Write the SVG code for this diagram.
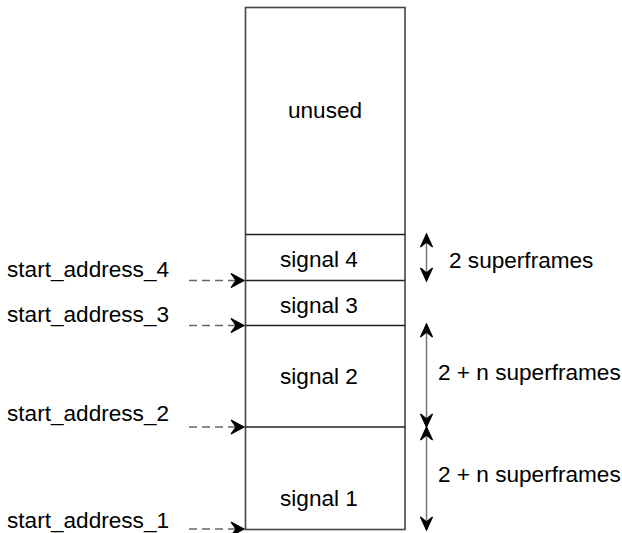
<svg xmlns="http://www.w3.org/2000/svg" width="622" height="533" viewBox="0 0 622 533">
  <style>
    text { font-family: "Liberation Sans", Arial, sans-serif; font-size: 22.6px; fill: #000; }
    .mid { text-anchor: middle; }
    .box { fill: #fff; stroke: #444; stroke-width: 1.6; }
    .sep { stroke: #222; stroke-width: 1.3; }
    .ptr { stroke: #666; stroke-width: 1.3; stroke-dasharray: 8 5; fill: none; }
    .span { stroke: #777; stroke-width: 1.5; fill: none; }
    .head { fill: #000; stroke: #000; stroke-width: 1.2; stroke-linejoin: miter; }
  </style>
  <defs>
    <!-- notched filled arrowheads: pointers (left) and span arrows (right) -->
    <marker id="ptrHead" viewBox="-16 -9 18 18" refX="0" refY="0" markerWidth="18" markerHeight="18" markerUnits="userSpaceOnUse" orient="auto">
      <path class="head" d="M0,0 L-13,-7 L-8,0 L-13,7 Z"/>
    </marker>
    <marker id="spanHead" viewBox="-16 -9 18 18" refX="0" refY="0" markerWidth="18" markerHeight="18" markerUnits="userSpaceOnUse" orient="auto-start-reverse">
      <path class="head" d="M0,0 L-13,-6 L-8,0 L-13,6 Z"/>
    </marker>
  </defs>

  <!-- memory column -->
  <g id="memory">
    <rect class="box" x="245.5" y="7.5" width="159.5" height="522"/>
  </g>
  <g id="unused">
    <text class="mid" x="325" y="118">unused</text>
  </g>
  <g id="signal4">
    <line class="sep" x1="245.5" y1="234.5" x2="405" y2="234.5"/>
    <text class="mid" x="319" y="267">signal 4</text>
  </g>
  <g id="signal3">
    <line class="sep" x1="245.5" y1="280.5" x2="405" y2="280.5"/>
    <text class="mid" x="319" y="313">signal 3</text>
  </g>
  <g id="signal2">
    <line class="sep" x1="245.5" y1="325.5" x2="405" y2="325.5"/>
    <text class="mid" x="319" y="384">signal 2</text>
  </g>
  <g id="signal1">
    <line class="sep" x1="245.5" y1="427" x2="405" y2="427"/>
    <text class="mid" x="319" y="506">signal 1</text>
  </g>

  <!-- start address labels -->
  <g id="addr4"><text x="7" y="277">start_address_4</text></g>
  <g id="addr3"><text x="7" y="322">start_address_3</text></g>
  <g id="addr2"><text x="7" y="421">start_address_2</text></g>
  <g id="addr1"><text x="7" y="528">start_address_1</text></g>

  <!-- size labels -->
  <g id="size4"><text x="449" y="268">2 superframes</text></g>
  <g id="size2"><text x="438" y="380">2 + n superframes</text></g>
  <g id="size1"><text x="438" y="482">2 + n superframes</text></g>

  <!-- connectors -->
  <g id="connectors">
    <line class="ptr" x1="189" y1="280.5" x2="244" y2="280.5" marker-end="url(#ptrHead)"/>
    <line class="ptr" x1="189" y1="325.5" x2="244" y2="325.5" marker-end="url(#ptrHead)"/>
    <line class="ptr" x1="189" y1="427" x2="244" y2="427" marker-end="url(#ptrHead)"/>
    <line class="ptr" x1="189" y1="529" x2="244" y2="529" marker-end="url(#ptrHead)"/>

    <line class="span" x1="426.5" y1="234" x2="426.5" y2="281" marker-start="url(#spanHead)" marker-end="url(#spanHead)"/>
    <line class="span" x1="426.5" y1="324" x2="426.5" y2="427" marker-start="url(#spanHead)" marker-end="url(#spanHead)"/>
    <line class="span" x1="426.5" y1="427" x2="426.5" y2="530" marker-start="url(#spanHead)" marker-end="url(#spanHead)"/>
  </g>
</svg>
